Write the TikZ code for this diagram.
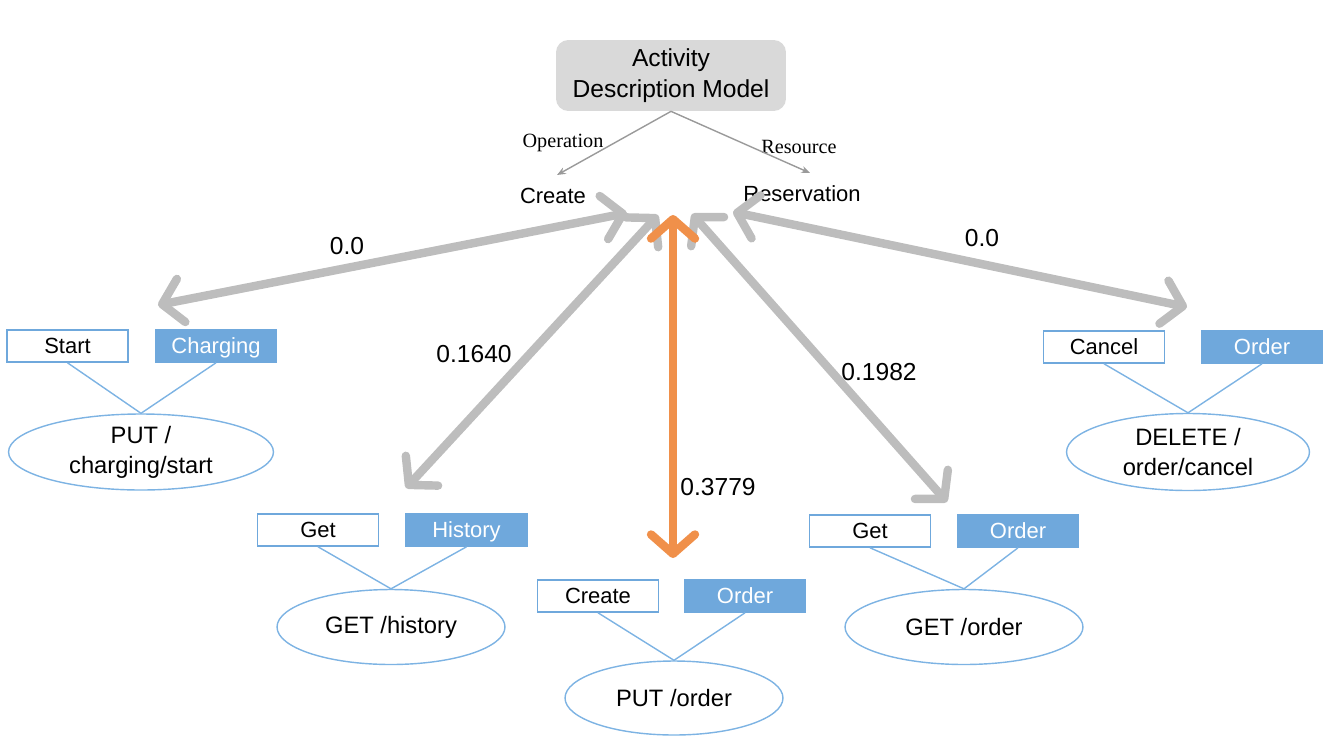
\documentclass[tikz,border=0pt]{standalone}
\usepackage{fontspec}
\setmainfont{Liberation Sans}
\newfontfamily\serifL{Liberation Serif}
\usetikzlibrary{arrows.meta,shapes.geometric}
\definecolor{boxblue}{HTML}{6FA8DC}
\definecolor{ellblue}{HTML}{7DB3E3}
\definecolor{arrgray}{HTML}{BDBDBD}
\definecolor{orng}{HTML}{F0904A}
\definecolor{topgray}{HTML}{D9D9D9}
\definecolor{thingray}{HTML}{9A9A9A}
\begin{document}
\begin{tikzpicture}[x=0.02cm,y=-0.02cm,
  basebox/.style={minimum width=2.42cm, minimum height=0.64cm, inner sep=0pt, line width=0.9pt, text height=10pt, text depth=2pt, font=\fontsize{12.5}{14}\selectfont},
  opbox/.style={basebox, draw=boxblue, fill=white, text=black},
  resbox/.style={basebox, draw=boxblue, fill=boxblue, text=white},
  api/.style={ellipse, draw=ellblue, line width=0.8pt, inner sep=0pt, align=center, font=\fontsize{13.5}{17}\selectfont},
  link/.style={draw=ellblue, line width=0.8pt},
  simarrow/.style={draw=arrgray, line width=4.8pt, {Straight Barb[length=11pt,width=25pt,round]}-{Straight Barb[length=11pt,width=25pt,round]}},
  bestarrow/.style={draw=orng, line width=4.8pt, {Straight Barb[length=11pt,width=25pt,round]}-{Straight Barb[length=11pt,width=25pt,round]}},
  score/.style={font=\fontsize{14}{16}\selectfont, inner sep=0pt},
  term/.style={font=\fontsize{12.5}{15}\selectfont, inner sep=0pt},
  role/.style={font=\serifL\fontsize{11.5}{13}\selectfont, inner sep=0pt},
  thinarrow/.style={draw=thingray, line width=0.8pt, -{Stealth[length=5pt,width=4pt]}},
  model/.style={rounded corners=7pt, fill=topgray, minimum width=4.6cm, minimum height=1.42cm, align=center, font=\fontsize{14}{17.5}\selectfont},
]
\useasboundingbox (0,0) rectangle (1332,744);

% top model
\node[model] (top) at (671,75.5) {Activity\\Description Model};
\node[term] (create) at (553,196) {Create};
\node[term] (reserv) at (802,194) {Reservation};
\node[role] (oplbl) at (563,143) {Operation};
\node[role] (reslbl) at (799,147) {Resource};
\coordinate (optip) at (557,175);
\coordinate (restip) at (810,173);
\draw[thinarrow] (top.south) -- (optip);
\draw[thinarrow] (top.south) -- (restip);

% group 1
\node[opbox] (s1) at (67.5,346) {Start};
\node[resbox] (c1) at (216,346) {Charging};
\node[api, minimum width=5.3cm, minimum height=1.52cm] (e1) at (141,452) {PUT /\\charging/start};
\draw[link] (s1.south) -- (e1.north) -- (c1.south);

% group 2
\node[opbox] (s2) at (318,530) {Get};
\node[resbox] (c2) at (466.5,530) {History};
\node[api, minimum width=4.56cm, minimum height=1.5cm] (e2) at (391,627) {GET /history};
\draw[link] (s2.south) -- (e2.north) -- (c2.south);

% group 3
\node[opbox] (s3) at (598,596) {Create};
\node[resbox] (c3) at (745,596) {Order};
\node[api, minimum width=4.36cm, minimum height=1.48cm] (e3) at (674,698) {PUT /order};
\draw[link] (s3.south) -- (e3.north) -- (c3.south);

% group 4
\node[opbox] (s4) at (870,531) {Get};
\node[resbox] (c4) at (1018,531) {Order};
\node[api, minimum width=4.76cm, minimum height=1.5cm] (e4) at (964,627) {GET /order};
\draw[link] (s4.south) -- (e4.north) -- (c4.south);

% group 5
\node[opbox] (s5) at (1104,347) {Cancel};
\node[resbox] (c5) at (1262,347) {Order};
\node[api, minimum width=4.86cm, minimum height=1.54cm] (e5) at (1188,452) {DELETE /\\order/cancel};
\draw[link] (s5.south) -- (e5.north) -- (c5.south);

% similarity arrows
\coordinate (a1t) at (627,213);
\coordinate (a1b) at (158,305);
\coordinate (a2t) at (658,215);
\coordinate (a2b) at (406,488);
\coordinate (a3t) at (692,214);
\coordinate (a3b) at (947,502);
\coordinate (a4t) at (733,212);
\coordinate (a4b) at (1187,307);
\coordinate (aot) at (673,215);
\coordinate (aob) at (673,558);
\draw[simarrow] (a1t) -- (a1b);
\draw[simarrow] (a2t) -- (a2b);
\draw[simarrow] (a3t) -- (a3b);
\draw[simarrow] (a4t) -- (a4b);
\draw[bestarrow] (aot) -- (aob);

\node[score] (l1) at (347,246) {0.0};
\node[score] (l2) at (474,354) {0.1640};
\node[score] (lo) at (718,487) {0.3779};
\node[score] (l3) at (879,372) {0.1982};
\node[score] (l4) at (982,238) {0.0};
\end{tikzpicture}
\end{document}
